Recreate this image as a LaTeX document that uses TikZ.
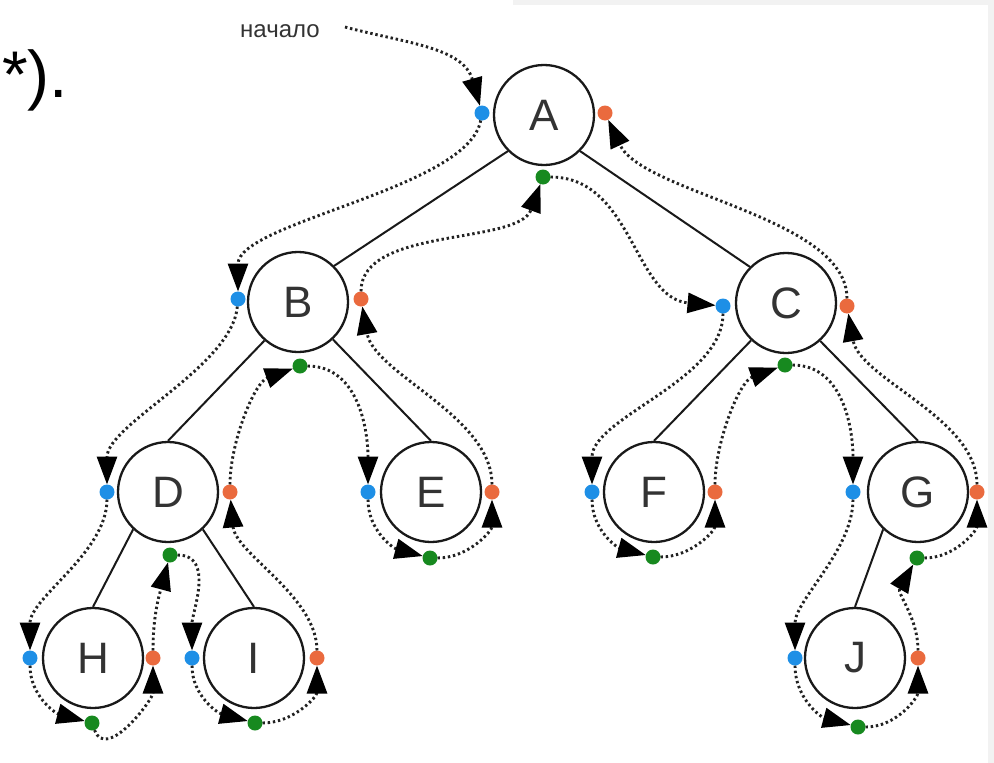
\documentclass[tikz,border=0pt]{standalone}
\usepackage{fontspec}
\setmainfont{Liberation Sans}
\usetikzlibrary{arrows.meta}
\pgfdeclarelayer{fg}
\pgfsetlayers{main,fg}
\definecolor{dotblue}{HTML}{1E8FE6}
\definecolor{dotred}{HTML}{EA6A3E}
\definecolor{dotgreen}{HTML}{17891F}
\definecolor{ink}{HTML}{333333}
\definecolor{dotink}{HTML}{222222}
\definecolor{framegray}{HTML}{F2F2F2}
\begin{document}
\begin{tikzpicture}[x=1pt,y=1pt,
  tnode/.style={circle, draw=black!90, line width=2.3pt, minimum size=100pt, inner sep=0pt, fill=white, font=\fontsize{44}{44}\selectfont, text=ink},
  dotbase/.style={circle, minimum size=15pt, inner sep=0pt, outer sep=0pt, draw=none},
  dotb/.style={dotbase, fill=dotblue},
  dotr/.style={dotbase, fill=dotred},
  dotg/.style={dotbase, fill=dotgreen},
  tedge/.style={line width=2pt, draw=black!90},
  flow/.style={line width=2.9pt, draw=dotink, dash pattern=on 2.4pt off 2.8pt, -{Triangle[length=28pt,width=20pt,black]}},
]
\useasboundingbox (0,0) rectangle (994,-763);
\fill[white] (0,0) rectangle (994,-763);
\fill[framegray] (988,0) rectangle (994,-763);
\fill[framegray] (513,0) rectangle (994,-5);

% fragment of text
\node[anchor=base west, inner sep=0pt, font=\fontsize{66}{66}\selectfont, text=black] (frag) at (2,-97) {*).};
\node[anchor=base, inner sep=0pt, font=\fontsize{24}{24}\selectfont, text=ink] (start) at (280,-37) {начало};
\coordinate (s0) at (345,-27);

% tree nodes
\node[tnode] (A) at (544,-115) {A};
\node[tnode] (B) at (298,-302) {B};
\node[tnode] (C) at (786,-303) {C};
\node[tnode] (D) at (168,-492) {D};
\node[tnode] (E) at (431,-492) {E};
\node[tnode] (F) at (654,-492) {F};
\node[tnode] (G) at (918,-492) {G};
\node[tnode] (H) at (93,-658) {H};
\node[tnode] (I) at (254,-658) {I};
\node[tnode] (J) at (855,-658) {J};

% tree edges
\draw[tedge] (A.225) -- (B.45);
\draw[tedge] (A.315) -- (C.135);
\draw[tedge] (B.229) -- (D.north);
\draw[tedge] (B.313) -- (E.north);
\draw[tedge] (C.227) -- (F.north);
\draw[tedge] (C.312) -- (G.north);
\draw[tedge] (D.227) -- (H.north);
\draw[tedge] (D.313) -- (I.north);
\draw[tedge] (G.227) -- (J.north);

% dots
\begin{pgfonlayer}{fg}
\node[dotb] (Ab) at (482,-113) {};
\node[dotr] (Ar) at (605,-113) {};
\node[dotg] (Ag) at (543,-177) {};
\node[dotb] (Bb) at (238,-299) {};
\node[dotr] (Br) at (361,-299) {};
\node[dotg] (Bg) at (300,-366) {};
\node[dotb] (Cb) at (723,-306) {};
\node[dotr] (Cr) at (847,-306) {};
\node[dotg] (Cg) at (785,-365) {};
\node[dotb] (Db) at (107,-492) {};
\node[dotr] (Dr) at (230,-492) {};
\node[dotg] (Dg) at (170,-555) {};
\node[dotb] (Eb) at (368,-492) {};
\node[dotr] (Er) at (492,-492) {};
\node[dotg] (Eg) at (430,-558) {};
\node[dotb] (Fb) at (592,-492) {};
\node[dotr] (Fr) at (715,-492) {};
\node[dotg] (Fg) at (653,-557) {};
\node[dotb] (Gb) at (853,-492) {};
\node[dotr] (Gr) at (977,-492) {};
\node[dotg] (Gg) at (917,-558) {};
\node[dotb] (Hb) at (30,-658) {};
\node[dotr] (Hr) at (153,-658) {};
\node[dotg] (Hg) at (92,-723) {};
\node[dotb] (Ib) at (192,-658) {};
\node[dotr] (Ir) at (317,-658) {};
\node[dotg] (Ig) at (255,-723) {};
\node[dotb] (Jb) at (795,-658) {};
\node[dotr] (Jr) at (918,-658) {};
\node[dotg] (Jg) at (858,-727) {};
\end{pgfonlayer}

% traversal
\draw[flow] (s0) to[out=-15, in=106] (Ab);
\draw[flow] (Ab) to[out=-100, in=90, looseness=0.6] (Bb);
\draw[flow] (Bb) to[out=-95, in=90, looseness=0.7] (Db);
\draw[flow] (Db) to[out=-90, in=90, looseness=0.8] (Hb);
\draw[flow] (Hb) to[out=-90, in=165] (Hg);
\draw[flow] (Hg) to[out=-70, in=-90] (Hr);
\draw[flow] (Hr) to[out=90, in=-105] (Dg);
\draw[flow] (Dg) to[out=0, in=90] (Ib);
\draw[flow] (Ib) to[out=-90, in=165] (Ig);
\draw[flow] (Ig) to[out=0, in=-90] (Ir);
\draw[flow] (Ir) to[out=90, in=-85, looseness=0.8] (Dr);
\draw[flow] (Dr) to[out=90, in=200, looseness=0.8] (Bg);
\draw[flow] (Bg) to[out=0, in=90] (Eb);
\draw[flow] (Eb) to[out=-90, in=165] (Eg);
\draw[flow] (Eg) to[out=0, in=-90] (Er);
\draw[flow] (Er) to[out=90, in=-80, looseness=0.8] (Br);
\draw[flow] (Br) to[out=90, in=-110, looseness=0.8] (Ag);
\draw[flow] (Ag) to[out=0, in=175] (Cb);
\draw[flow] (Cb) to[out=-90, in=90, looseness=0.8] (Fb);
\draw[flow] (Fb) to[out=-90, in=165] (Fg);
\draw[flow] (Fg) to[out=0, in=-90] (Fr);
\draw[flow] (Fr) to[out=90, in=200, looseness=0.8] (Cg);
\draw[flow] (Cg) to[out=0, in=90] (Gb);
\draw[flow] (Gb) to[out=-90, in=90, looseness=0.8] (Jb);
\draw[flow] (Jb) to[out=-90, in=165] (Jg);
\draw[flow] (Jg) to[out=0, in=-90] (Jr);
\draw[flow] (Jr) to[out=90, in=-120] (Gg);
\draw[flow] (Gg) to[out=0, in=-90] (Gr);
\draw[flow] (Gr) to[out=90, in=-80, looseness=0.8] (Cr);
\draw[flow] (Cr) to[out=90, in=-65, looseness=0.7] (Ar);
\end{tikzpicture}
\end{document}
